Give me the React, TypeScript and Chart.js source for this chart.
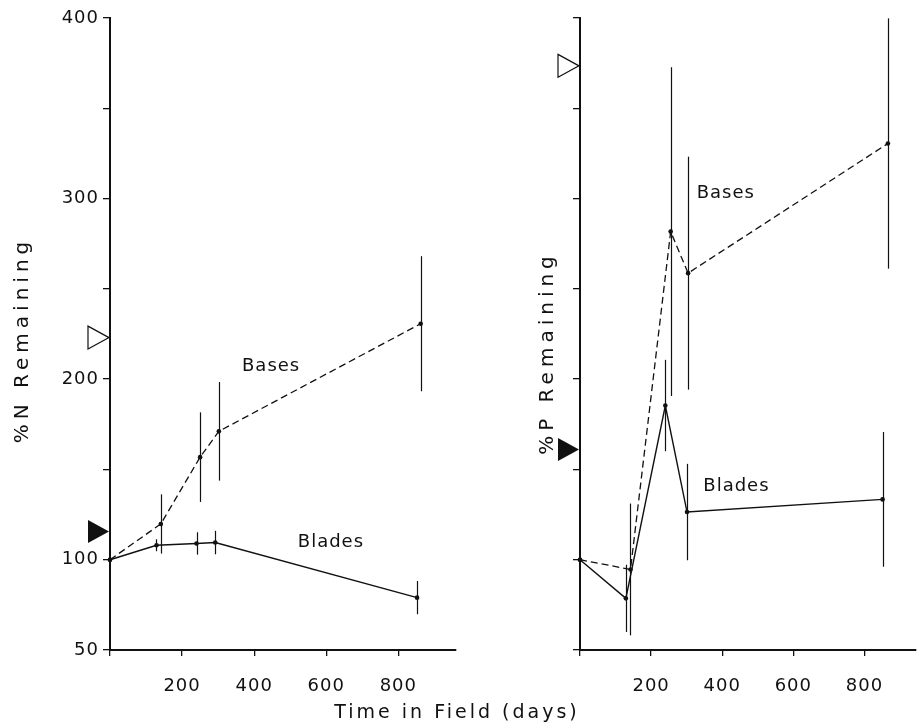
import React, { useEffect, useRef } from "react";
import { Chart, registerables } from "chart.js";

Chart.register(...registerables);

const FONT = '"DejaVu Sans", "Liberation Sans", sans-serif';
const INK = "#111111";

// Axis ticks
const dayTicks = [0, 200, 400, 600, 800];
const pctTicks = [50, 100, 150, 200, 250, 300, 350, 400];
const pctLabels = [50, 100, 200, 300, 400];

// % N remaining — blades
const nBladeDays = [0, 129, 240, 292, 852];
const nBladeVals = [100, 108, 109, 109.5, 79];
const nBladeErr = [0, 3.3, 6.2, 6.5, 9.2];

// % N remaining — bases
const nBaseDays = [0, 141, 250, 302, 862];
const nBaseVals = [100, 119.8, 156.8, 171.1, 230.7];
const nBaseErr = [0, 16.4, 24.8, 27.3, 37.4];

// % P remaining — blades
const pBladeDays = [0, 129, 240, 301, 851];
const pBladeVals = [100, 78.6, 185.4, 126.4, 133.4];
const pBladeErr = [0, 18.6, 25.3, 26.7, 37.3];

// % P remaining — bases
const pBaseDays = [0, 142, 255, 304, 866];
const pBaseVals = [100, 94.6, 281.7, 258.7, 330.5];
const pBaseErr = [0, 36.5, 91, 64.5, 69.3];

// Axis markers (filled = blades, open = bases)
const nBladeMarker = 115.6;
const nBaseMarker = 223;
const pBladeMarker = 161;
const pBaseMarker = 373.5;

type Panel = {
  padLeft: number;
  padRight: number;
  xMax: number;
  showYLabels: boolean;
  yTitle: string;
  yTitlePos: [number, number];
  xTitle?: string;
  blade: { days: number[]; vals: number[]; err: number[] };
  base: { days: number[]; vals: number[]; err: number[] };
  markers: { value: number; filled: boolean }[];
  notes: { text: string; day: number; value: number }[];
};

const decorations = {
  id: "decorations",
  beforeDraw(chart: any) {
    chart.ctx.letterSpacing = "1px";
  },
  afterDatasetsDraw(chart: any, _args: any, opts: any) {
    const { ctx, chartArea } = chart;
    const x = chart.scales.x;
    const y = chart.scales.y;
    ctx.save();
    ctx.strokeStyle = INK;
    ctx.lineWidth = 1.2;
    for (const s of opts.series) {
      s.days.forEach((d: number, i: number) => {
        if (!s.err[i]) return;
        const px = Math.round(x.getPixelForValue(d)) + 0.5;
        ctx.beginPath();
        ctx.moveTo(px, y.getPixelForValue(s.vals[i] - s.err[i]));
        ctx.lineTo(px, y.getPixelForValue(s.vals[i] + s.err[i]));
        ctx.stroke();
      });
    }
    // triangles pointing at the y axis
    for (const m of opts.markers) {
      const ty = y.getPixelForValue(m.value);
      const tx = chartArea.left - 1;
      ctx.beginPath();
      ctx.moveTo(tx, ty);
      ctx.lineTo(tx - 21, ty - 11.5);
      ctx.lineTo(tx - 21, ty + 11.5);
      ctx.closePath();
      if (m.filled) {
        ctx.fillStyle = INK;
        ctx.fill();
      } else {
        ctx.fillStyle = "#ffffff";
        ctx.fill();
        ctx.lineWidth = 1.2;
        ctx.stroke();
      }
    }
    ctx.restore();
  },
  afterDraw(chart: any, _args: any, opts: any) {
    const { ctx } = chart;
    const x = chart.scales.x;
    const y = chart.scales.y;
    ctx.save();
    ctx.fillStyle = INK;
    ctx.textAlign = "center";
    ctx.textBaseline = "middle";
    ctx.font = `18px ${FONT}`;
    ctx.letterSpacing = "1px";
    for (const n of opts.notes) {
      ctx.fillText(n.text, x.getPixelForValue(n.day), y.getPixelForValue(n.value));
    }
    ctx.font = `20px ${FONT}`;
    ctx.letterSpacing = "5px";
    ctx.save();
    ctx.translate(opts.yTitlePos[0], opts.yTitlePos[1]);
    ctx.rotate(-Math.PI / 2);
    ctx.fillText(opts.yTitle, 0, 0);
    ctx.restore();
    if (opts.xTitle) {
      ctx.font = `19px ${FONT}`;
      ctx.letterSpacing = "3px";
      ctx.fillText(opts.xTitle, 457, 713);
    }
    ctx.restore();
    ctx.letterSpacing = "0px";
  },
};

function buildPanel(canvas: HTMLCanvasElement, p: Panel) {
  const toPoints = (days: number[], vals: number[]) =>
    days.map((d, i) => ({ x: d, y: vals[i] }));
  return new Chart(canvas, {
    type: "line",
    data: {
      datasets: [
        {
          label: "Blades",
          data: toPoints(p.blade.days, p.blade.vals),
          borderColor: INK,
          borderWidth: 1.4,
          pointRadius: 2.3,
          pointBackgroundColor: INK,
          pointBorderWidth: 0,
          tension: 0,
          clip: false,
        },
        {
          label: "Bases",
          data: toPoints(p.base.days, p.base.vals),
          borderColor: INK,
          borderWidth: 1.3,
          borderDash: [7, 4],
          pointRadius: 2.3,
          pointBackgroundColor: INK,
          pointBorderWidth: 0,
          tension: 0,
          clip: false,
        },
      ],
    },
    options: {
      responsive: false,
      animation: false,
      devicePixelRatio: 1,
      layout: { padding: { left: p.padLeft, right: p.padRight, top: 18, bottom: 0 } },
      plugins: {
        legend: { display: false },
        tooltip: { enabled: false },
        decorations: {
          series: [p.blade, p.base],
          markers: p.markers,
          notes: p.notes,
          yTitle: p.yTitle,
          yTitlePos: p.yTitlePos,
          xTitle: p.xTitle,
        },
      } as any,
      scales: {
        x: {
          type: "linear",
          min: 0,
          max: p.xMax,
          afterBuildTicks: (axis: any) => {
            axis.ticks = dayTicks.map((v) => ({ value: v }));
          },
          afterFit: (scale: any) => {
            scale.height = 77;
          },
          ticks: {
            callback: (v: any) => (v === 0 ? "" : String(v)),
            font: { family: FONT, size: 18 },
            color: INK,
            padding: 20,
            maxRotation: 0,
            autoSkip: false,
          },
          grid: {
            drawOnChartArea: false,
            drawTicks: true,
            tickLength: 6,
            tickColor: INK,
            lineWidth: 1.3,
          },
          border: { display: true, color: INK, width: 2 },
        },
        y: {
          type: "linear",
          min: 50,
          max: 400,
          afterBuildTicks: (axis: any) => {
            axis.ticks = pctTicks.map((v) => ({ value: v }));
          },
          afterFit: (scale: any) => {
            scale.width = 110;
          },
          ticks: {
            callback: (v: any) =>
              p.showYLabels && pctLabels.includes(v) ? String(v) : "",
            font: { family: FONT, size: 18 },
            color: INK,
            padding: 4,
            autoSkip: false,
          },
          grid: {
            drawOnChartArea: false,
            drawTicks: true,
            tickLength: 7,
            tickColor: INK,
            lineWidth: 1.3,
          },
          border: { display: true, color: INK, width: 2 },
        },
      },
    },
    plugins: [decorations as any],
  });
}

const nitrogen: Panel = {
  padLeft: 0,
  padRight: 464,
  xMax: 960,
  showYLabels: true,
  yTitle: "%N Remaining",
  yTitlePos: [23, 340],
  xTitle: "Time in Field (days)",
  blade: { days: nBladeDays, vals: nBladeVals, err: nBladeErr },
  base: { days: nBaseDays, vals: nBaseVals, err: nBaseErr },
  markers: [
    { value: nBladeMarker, filled: true },
    { value: nBaseMarker, filled: false },
  ],
  notes: [
    { text: "Bases", day: 447, value: 207.3 },
    { text: "Blades", day: 613, value: 109.8 },
  ],
};

const phosphorus: Panel = {
  padLeft: 470,
  padRight: 0,
  xMax: 945,
  showYLabels: false,
  yTitle: "%P Remaining",
  yTitlePos: [548, 353],
  blade: { days: pBladeDays, vals: pBladeVals, err: pBladeErr },
  base: { days: pBaseDays, vals: pBaseVals, err: pBaseErr },
  markers: [
    { value: pBladeMarker, filled: true },
    { value: pBaseMarker, filled: false },
  ],
  notes: [
    { text: "Bases", day: 410, value: 303 },
    { text: "Blades", day: 440, value: 140.8 },
  ],
};

export default function App() {
  const leftRef = useRef<HTMLCanvasElement>(null);
  const rightRef = useRef<HTMLCanvasElement>(null);

  useEffect(() => {
    const a = buildPanel(leftRef.current!, nitrogen);
    const b = buildPanel(rightRef.current!, phosphorus);
    return () => {
      a.destroy();
      b.destroy();
    };
  }, []);

  const canvasStyle: React.CSSProperties = {
    position: "absolute",
    left: 0,
    top: 0,
    width: 920,
    height: 727,
    display: "block",
  };

  return (
    <div
      style={{
        position: "absolute",
        left: 0,
        top: 0,
        width: 920,
        height: 727,
        background: "#ffffff",
      }}
    >
      <canvas ref={leftRef} width={920} height={727} style={canvasStyle} />
      <canvas ref={rightRef} width={920} height={727} style={canvasStyle} />
    </div>
  );
}
